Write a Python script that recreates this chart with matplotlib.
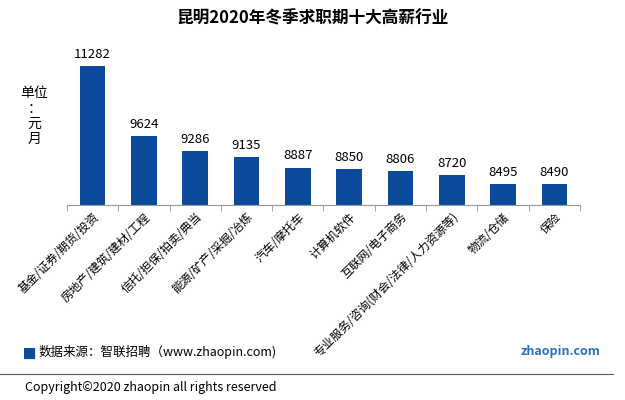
import matplotlib
matplotlib.use("Agg")
import matplotlib.pyplot as plt
import numpy as np

plt.rcParams['font.family'] = ['Noto Sans CJK SC', 'DejaVu Sans']

categories = ["基金/证券/期货/投资", "房地产/建筑/建材/工程", "信托/担保/拍卖/典当",
              "能源/矿产/采掘/冶炼", "汽车/摩托车", "计算机软件", "互联网/电子商务",
              "专业服务/咨询(财会/法律/人力资源等)", "物流/仓储", "保险"]
values = [11282, 9624, 9286, 9135, 8887, 8850, 8806, 8720, 8495, 8490]

color = "#0B4A9A"
fig = plt.figure(figsize=(6.25, 4), dpi=100)
ax = fig.add_axes([0.107, 0.4875, 0.821, 0.4225])
x = np.arange(len(values))
ax.bar(x, values, width=0.5, color=color, bottom=0)
ax.set_ylim(8000, 12000)
ax.set_xlim(-0.5, len(values) - 0.5)
for xi, v in zip(x, values):
    ax.text(xi, v + 120, str(v), ha="center", va="bottom", fontsize=9.5)
for s in ["top", "right", "left"]:
    ax.spines[s].set_visible(False)
ax.spines["bottom"].set_color("#999999")
ax.set_yticks([])
ax.set_xticks(np.arange(-0.5, len(values)), minor=True)
ax.set_xticks(x)
ax.tick_params(axis="x", which="major", length=0, pad=4)
ax.tick_params(axis="x", which="minor", length=4, color="#999999")
ax.set_xticklabels(categories, rotation=45, ha="right", rotation_mode="anchor", fontsize=8.5)

fig.text(0.5, 0.955, "昆明2020年冬季求职期十大高薪行业", ha="center", va="center",
         fontsize=12, fontweight="bold")
fig.text(0.055, 0.71, "单位\n：\n元\n月", ha="center", va="center", fontsize=10, linespacing=1.1)
fig.text(0.048, 0.115, "█", color=color, fontsize=8, ha="center", va="center")
fig.text(0.062, 0.12, "数据来源：智联招聘（www.zhaopin.com)", fontsize=9, va="center")
fig.add_artist(plt.Line2D([0.0, 0.98], [0.065, 0.065], color="#555555", lw=0.8))
fig.text(0.04, 0.03, "Copyright©2020 zhaopin all rights reserved", fontsize=9, va="center")
fig.text(0.96, 0.12, "zhaopin.com", fontsize=9, ha="right", va="center", color="#2a6fc0",
         fontweight="bold")
fig.savefig("out.png", dpi=100, facecolor="white")
